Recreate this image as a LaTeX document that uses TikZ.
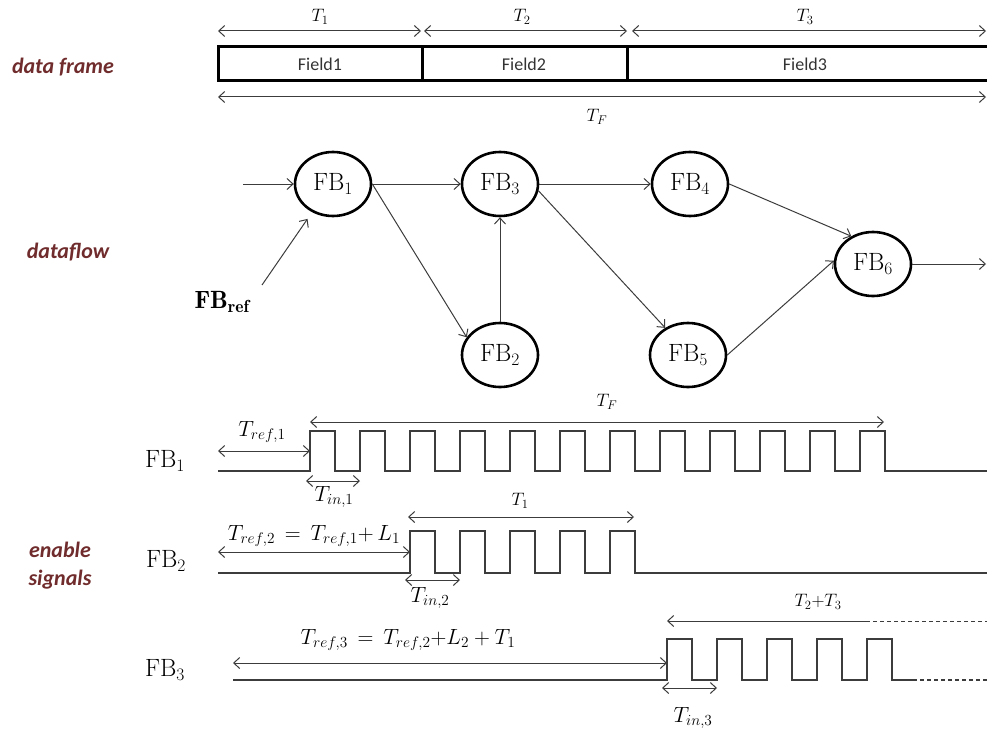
\RequirePackage{fix-cm}
\documentclass[tikz,border=0pt]{standalone}
\usepackage{fontspec}
\newfontfamily\calib{Carlito}
\usetikzlibrary{arrows.meta,shapes.geometric}
\definecolor{lbl}{RGB}{112,44,44}
\definecolor{ln}{RGB}{60,60,60}
\begin{document}
\begin{tikzpicture}[x=1pt,y=-1pt,
  fb/.style={ellipse, draw=black, line width=2.6pt, minimum width=76pt, minimum height=64pt, inner sep=0pt, font=\fontsize{25}{27}\selectfont},
  lab/.style={font=\calib\bfseries\itshape\fontsize{22}{28}\selectfont, text=lbl, align=center},
  fld/.style={font=\calib\fontsize{18}{20}\selectfont, text=black!80},
  tl/.style={font=\fontsize{18}{20}\selectfont, inner sep=0pt},
  tm/.style={font=\fontsize{22}{24}\selectfont, inner sep=0pt},
  sig/.style={font=\fontsize{25}{27}\selectfont, inner sep=0pt},
  con/.style={draw=ln, line width=1pt, -{Straight Barb[length=6pt,width=11pt]}},
  dim/.style={draw=ln, line width=1pt, {Straight Barb[length=6pt,width=11pt]}-{Straight Barb[length=6pt,width=11pt]}},
  ldim/.style={draw=ln, line width=1pt, {Straight Barb[length=6pt,width=11pt]}-},
  wave/.style={draw=ln, line width=1.2pt},
  frm/.style={draw=black, line width=3pt}]
\useasboundingbox (0,0) rectangle (987,733);

% ---------- data frame ----------
\node[lab] (ldf) at (63,67) {data frame};
\draw[frm] (987,47) -- (218,47) -- (218,81) -- (987,81);
\draw[frm] (422,47) -- (422,81);
\draw[frm] (627,47) -- (627,81);
\node[fld] (f1) at (320,64) {Field1};
\node[fld] (f2) at (524,64) {Field2};
\node[fld] (f3) at (805,64) {Field3};
\coordinate (a0) at (218,31);
\coordinate (a1) at (421,31);
\coordinate (b0) at (424,31);
\coordinate (b1) at (627,31);
\coordinate (c0) at (632,31);
\coordinate (c1) at (986,31);
\draw[dim] (a0) -- (a1);
\draw[dim] (b0) -- (b1);
\draw[dim] (c0) -- (c1);
\node[tl] (t1) at (320,17) {$T_1$};
\node[tl] (t2) at (522,17) {$T_2$};
\node[tl] (t3) at (805,17) {$T_3$};
\coordinate (tf0) at (218,97);
\coordinate (tf1) at (986,97);
\draw[dim] (tf0) -- (tf1);
\node[tl] (tf) at (597,117) {$T_F$};

% ---------- dataflow ----------
\node[lab] (ldfl) at (68,252) {dataflow};
\node[fb] (FB1) at (333,184) {$\mathrm{FB}_1$};
\node[fb] (FB3) at (500,184) {$\mathrm{FB}_3$};
\node[fb] (FB2) at (500,355) {$\mathrm{FB}_2$};
\node[fb] (FB4) at (690,184) {$\mathrm{FB}_4$};
\node[fb] (FB5) at (688,355) {$\mathrm{FB}_5$};
\node[fb] (FB6) at (873,264) {$\mathrm{FB}_6$};
\node[sig] (FBref) at (222,302) {$\mathbf{FB}_{\mathbf{ref}}$};
\coordinate (in) at (243,184);
\coordinate (refs) at (262,285);
\coordinate (out) at (986,264);
\draw[con] (in) -- (FB1);
\draw[con] (refs) -- ([shift={(-6,6)}]FB1.236);
\draw[con] (FB1) -- (FB3);
\draw[con] (FB1.east) -- (FB2.152);
\draw[con] (FB2) -- (FB3);
\draw[con] (FB3) -- (FB4);
\draw[con] (FB3.-10) -- (FB5.130);
\draw[con] (FB4.east) -- (FB6.128);
\draw[con] (FB5.east) -- (FB6.175);
\draw[con] (FB6) -- (out);

% ---------- enable signals ----------
\node[lab] (les) at (60,566) {enable\\signals};
\node[sig] (s1) at (165,461) {$\mathrm{FB}_1$};
\node[sig] (s2) at (166,561) {$\mathrm{FB}_2$};
\node[sig] (s3) at (165,670) {$\mathrm{FB}_3$};

% FB1 waveform
\draw[wave] (218,471) -- (310,471)
  foreach \k in {0,...,11} { -- ({310+50*\k},431) -- ({335+50*\k},431) -- ({335+50*\k},471) -- ({360+50*\k},471) }
  -- (987,471);
\coordinate (r10) at (218,451);
\coordinate (r11) at (310,451);
\draw[dim] (r10) -- (r11);
\node[tm] (tr1) at (262,432) {$T_{ref,1}$};
\coordinate (F0) at (310,422);
\coordinate (F1) at (884,422);
\draw[dim] (F0) -- (F1);
\node[tl] (tfw) at (607,402) {$T_F$};
\coordinate (i10) at (306,481);
\coordinate (i11) at (360,481);
\draw[dim] (i10) -- (i11);
\node[tm] (ti1) at (334,497) {$T_{in,1}$};

% FB2 waveform
\draw[wave] (218,573) -- (410,573)
  foreach \k in {0,...,4} { -- ({410+50*\k},531) -- ({435+50*\k},531) -- ({435+50*\k},573) -- ({460+50*\k},573) }
  -- (987,573);
\coordinate (r20) at (218,552);
\coordinate (r21) at (410,552);
\draw[dim] (r20) -- (r21);
\node[tm] (tr2) at (314,536) {$T_{ref,2}\,=\,T_{ref,1}{+}\,L_1$};
\coordinate (T10) at (408,517);
\coordinate (T11) at (634,517);
\draw[dim] (T10) -- (T11);
\node[tl] (tt1) at (520,501) {$T_1$};
\coordinate (i20) at (405,580);
\coordinate (i21) at (460,580);
\draw[dim] (i20) -- (i21);
\node[tm] (ti2) at (430,598) {$T_{in,2}$};

% FB3 waveform
\draw[wave] (233,680) -- (667,680)
  foreach \k in {0,...,4} { -- ({667+50*\k},639) -- ({692+50*\k},639) -- ({692+50*\k},680) -- ({717+50*\k},680) }
  ;
\draw[wave, dash pattern=on 4pt off 3pt] (892,680) -- (987,680);
\coordinate (r30) at (233,663);
\coordinate (r31) at (667,663);
\draw[dim] (r30) -- (r31);
\node[tm] (tr3) at (408,640) {$T_{ref,3}\,=\,T_{ref,2}{+}L_2+T_1$};
\coordinate (u0) at (667,621);
\coordinate (u1) at (866,621);
\coordinate (u2) at (987,621);
\draw[ldim] (u0) -- (u1);
\draw[draw=ln, line width=1pt, dash pattern=on 4pt off 3pt] (u1) -- (u2);
\node[tl] (t23) at (818,602) {$T_2{+}T_3$};
\coordinate (i30) at (662,688);
\coordinate (i31) at (717,688);
\draw[dim] (i30) -- (i31);
\node[tm] (ti3) at (693,718) {$T_{in,3}$};
\end{tikzpicture}
\end{document}
